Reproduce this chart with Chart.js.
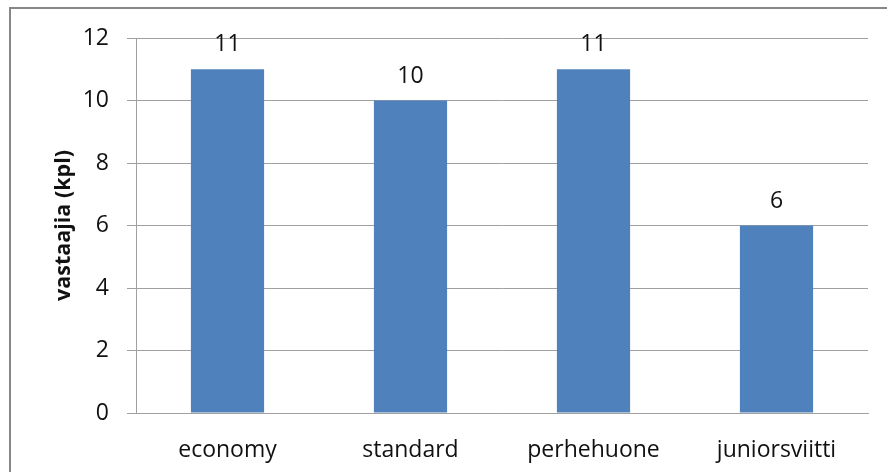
<!DOCTYPE html>
<html>
<head>
<meta charset="utf-8">
<script src="https://cdn.jsdelivr.net/npm/chart.js@4.4.1/dist/chart.umd.min.js"></script>
<style>
    html, body { margin: 0; padding: 0; background: #fff; overflow: hidden; }
    #wrap { position: relative; width: 887px; height: 472px; }
    #frame {
        position: absolute; left: 9px; top: 7px; width: 2000px; height: 2000px;
        border-left: 2px solid #878787; border-top: 2px solid #878787;
        pointer-events: none;
    }
</style>
</head>
<body>
<div id="wrap">
    <canvas id="chart"></canvas>
    <div id="frame"></div>
</div>
<script>
    // data
    const categories = ['economy', 'standard', 'perhehuone', 'juniorsviitti'];
    const respondents = [11, 10, 11, 6];
    const yTitle = 'vastaajia (kpl)';

    const fontFamily = '"Open Sans", sans-serif';

    // value labels above bars
    const barLabels = {
        id: 'barLabels',
        afterDatasetsDraw(chart) {
            const ctx = chart.ctx;
            ctx.save();
            ctx.font = '23px ' + fontFamily;
            ctx.fillStyle = '#111';
            ctx.textAlign = 'center';
            ctx.textBaseline = 'alphabetic';
            chart.getDatasetMeta(0).data.forEach(function(bar, i) {
                ctx.fillText(String(respondents[i]), bar.x, bar.y - 18);
            });
            ctx.restore();
        }
    };

    new Chart(document.getElementById('chart'), {
        type: 'bar',
        data: {
            labels: categories,
            datasets: [{
                data: respondents,
                backgroundColor: '#4F81BD',
                borderWidth: 0,
                categoryPercentage: 1,
                barPercentage: 0.4
            }]
        },
        options: {
            responsive: true,
            maintainAspectRatio: false,
            animation: false,
            layout: { padding: { top: 38, right: 19, bottom: 0, left: 0 } },
            plugins: {
                legend: { display: false },
                tooltip: { enabled: false }
            },
            scales: {
                x: {
                    grid: { display: false, drawTicks: false },
                    border: { display: true, color: '#a0a0a0', width: 1 },
                    ticks: {
                        color: '#111',
                        padding: 24,
                        font: { family: fontFamily, size: 23 }
                    },
                    afterFit: function(scale) { scale.height = 59; }
                },
                y: {
                    min: 0,
                    max: 12,
                    ticks: {
                        stepSize: 2,
                        color: '#111',
                        padding: 18,
                        font: { family: fontFamily, size: 23 }
                    },
                    grid: { color: '#a0a0a0', tickLength: 9, drawTicks: true },
                    border: { display: true, color: '#a0a0a0', width: 1 },
                    title: {
                        display: true,
                        text: yTitle,
                        color: '#111',
                        padding: { top: 51, bottom: 0 },
                        font: { family: fontFamily, size: 21.5, weight: 'bold' }
                    },
                    afterFit: function(scale) { scale.width = 136; }
                }
            }
        },
        plugins: [barLabels]
    });
</script>
</body>
</html>
